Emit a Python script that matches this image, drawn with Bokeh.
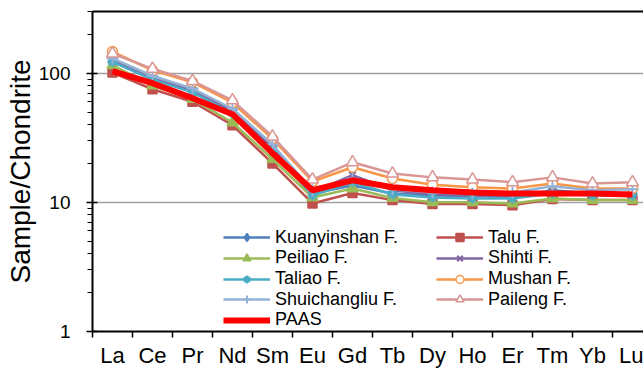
from bokeh.plotting import figure
from bokeh.models import (Legend, LegendItem, LinearAxis, FixedTicker, Range1d,
                          BasicTickFormatter)
from bokeh.embed import file_html
from bokeh.resources import INLINE

elements = ["La", "Ce", "Pr", "Nd", "Sm", "Eu", "Gd", "Tb", "Dy", "Ho", "Er", "Tm", "Yb", "Lu"]

kuanyinshan = [122, 93, 75, 51.6, 26.7, 11.7, 13.5, 11.7, 11.3, 11.2, 11.0, 12.4, 11.7, 11.7]
talu = [101, 75, 60, 39.5, 20.0, 9.8, 11.8, 10.4, 9.7, 9.7, 9.5, 10.6, 10.4, 10.4]
peiliao = [115, 80, 63, 41.5, 21.6, 10.9, 12.8, 10.8, 10.0, 10.0, 9.8, 10.7, 10.4, 10.4]
shihti = [126, 91, 74, 50.6, 26.0, 12.0, 16.2, 12.4, 11.5, 11.3, 11.1, 12.0, 11.7, 11.7]
taliao = [122, 89, 71, 49.0, 25.0, 11.3, 14.3, 11.5, 10.9, 10.7, 10.7, 11.7, 11.3, 11.3]
mushan = [147, 105, 85, 59, 31, 14.5, 18.7, 15.3, 13.7, 13.1, 12.8, 14.0, 12.8, 12.8]
shuichangliu = [130, 95, 76, 53, 28, 12.4, 15.3, 12.6, 11.9, 11.7, 11.9, 13.3, 12.4, 12.6]
paileng = [142, 108, 87, 61.6, 32.3, 15.0, 20.4, 16.7, 15.6, 15.0, 14.3, 15.6, 14.0, 14.3]
paas = [103.6, 83.6, 64, 48.1, 24, 12.4, 14.8, 13.1, 12.4, 11.9, 11.7, 11.7, 11.7, 11.5]

y_ticks = [1, 10, 100]
y_minor = [2, 3, 4, 5, 6, 7, 8, 9, 20, 30, 40, 50, 60, 70, 80, 90, 200, 300]

FONT = "Liberation Sans"
x = list(range(len(elements)))

p = figure(width=643, height=370, y_axis_type="log",
           x_range=Range1d(-0.5, 13.275), y_range=Range1d(1, 300),
           output_backend="svg", toolbar_location=None,
           min_border_left=92, min_border_right=0, min_border_top=11,
           min_border_bottom=39, x_axis_location=None)
p.outline_line_color = None
p.background_fill_color = "white"
p.xgrid.visible = False

# y axis
yax = p.yaxis[0]
yax.ticker = FixedTicker(ticks=y_ticks, minor_ticks=y_minor)
yax.formatter = BasicTickFormatter()
yax.axis_line_color = "black"
yax.axis_line_width = 2
yax.major_tick_line_color = "black"
yax.major_tick_line_width = 1.5
yax.major_tick_out = 6
yax.major_tick_in = 5
yax.minor_tick_line_color = "black"
yax.minor_tick_line_width = 1.2
yax.minor_tick_out = 5
yax.minor_tick_in = 0
yax.major_label_text_font = FONT
yax.major_label_text_font_size = "19px"
yax.major_label_text_color = "black"
yax.major_label_standoff = 16
yax.axis_label = "Sample/Chondrite"
yax.axis_label_text_font = FONT
yax.axis_label_text_font_size = "28px"
yax.axis_label_text_font_style = "normal"
yax.axis_label_text_color = "black"
yax.axis_label_standoff = 0

p.ygrid.ticker = FixedTicker(ticks=y_ticks)
p.ygrid.grid_line_color = "#a0a0a0"
p.ygrid.grid_line_width = 1.5

# x axis
xax = LinearAxis(ticker=FixedTicker(ticks=x, minor_ticks=[i - 0.5 for i in range(len(elements) + 1)]),
                 major_label_overrides={i: e for i, e in enumerate(elements)})
xax.axis_line_color = "black"
xax.axis_line_width = 2
xax.major_tick_out = 0
xax.major_tick_in = 0
xax.minor_tick_line_color = "black"
xax.minor_tick_line_width = 1.5
xax.minor_tick_out = 6
xax.minor_tick_in = 0
xax.major_label_text_font = FONT
xax.major_label_text_font_size = "22px"
xax.major_label_text_line_height = 0.8
xax.major_label_text_color = "black"
xax.major_label_standoff = 5
p.add_layout(xax, "below")

# top border line
top = LinearAxis(ticker=FixedTicker(ticks=[]), axis_line_color="black", axis_line_width=2,
                 major_tick_out=0, major_tick_in=0, minor_tick_out=0, minor_tick_in=0)
p.add_layout(top, "above")

series = [
    ("Kuanyinshan F.", kuanyinshan, "#4F81BD", "diamond", 13, "#4F81BD"),
    ("Talu F.", talu, "#C0504D", "square", 9, "#C0504D"),
    ("Peiliao F.", peiliao, "#9BBB59", "triangle", 11, "#9BBB59"),
    ("Shihti F.", shihti, "#8064A2", "x", 9, None),
    ("Taliao F.", taliao, "#4BACC6", "asterisk", 10, None),
    ("Mushan F.", mushan, "#F79646", "circle", 10, "white"),
    ("Shuichangliu F.", shuichangliu, "#95B3D7", "cross", 12, None),
    ("Paileng F.", paileng, "#D99694", "triangle", 12, "white"),
]

items = {}
for name, vals, col, mk, sz, fill in series:
    lr = p.line(x, vals, line_color=col, line_width=2.5)
    if fill is None:
        sr = p.scatter(x, vals, marker=mk, size=sz, line_color=col, line_width=2)
    else:
        sr = p.scatter(x, vals, marker=mk, size=sz, line_color=col, line_width=1.5, fill_color=fill)
    items[name] = LegendItem(label=name, renderers=[lr, sr])

pr = p.line(x, paas, line_color="#FF0000", line_width=6)
items["PAAS"] = LegendItem(label="PAAS", renderers=[pr])

legend_cols = [
    (131, ["Kuanyinshan F.", "Peiliao F.", "Taliao F.", "Shuichangliu F.", "PAAS"]),
    (344, ["Talu F.", "Shihti F.", "Mushan F.", "Paileng F."]),
]
ROW_H = 20.6      # row pitch of the legend entries
ITEM_H = 20       # nominal height of one legend entry box
FIRST_ROW = 93.5  # distance of first row center above frame bottom

for lx, names in legend_cols:
    for k, n in enumerate(names):
        yc = FIRST_ROW - k * ROW_H
        lg = Legend(items=[items[n]], location=(lx, yc - 10.3), orientation="vertical",
                    padding=0, margin=0, spacing=0, label_standoff=5,
                    glyph_width=47, glyph_height=ITEM_H, label_height=ITEM_H,
                    label_text_font=FONT, label_text_font_size="18px",
                    label_text_color="black", border_line_color=None,
                    background_fill_alpha=0)
        p.add_layout(lg)

open("out.html", "w").write(file_html(p, INLINE))
